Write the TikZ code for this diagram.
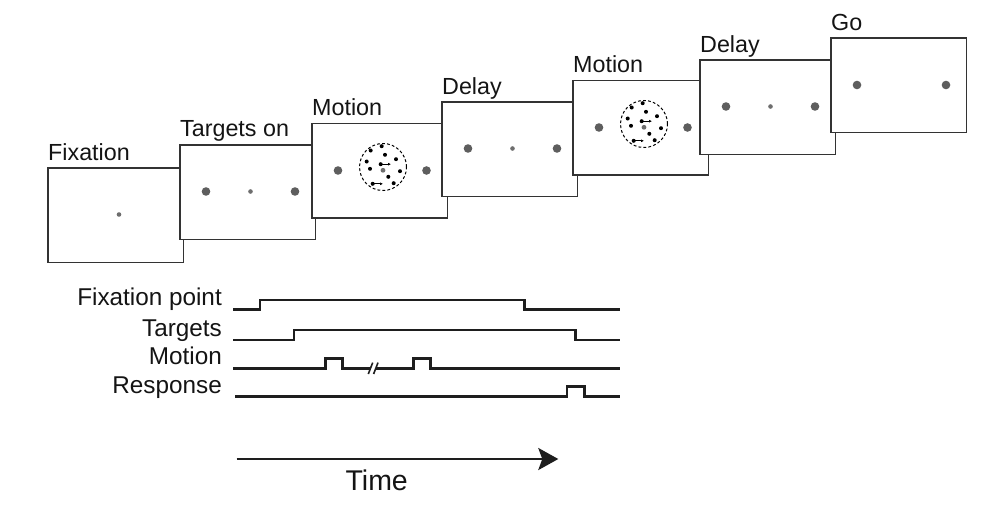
\documentclass[tikz,border=0pt]{standalone}
\usepackage{fontspec}
\setmainfont{Liberation Sans}
\usetikzlibrary{arrows.meta}
\definecolor{framecol}{HTML}{333333}
\definecolor{dotgray}{HTML}{5E5E5E}
\definecolor{fixgray}{HTML}{6E6E6E}
\definecolor{tracecol}{HTML}{1E1E1E}
\newcommand\panelfont{\fontsize{23.3}{28}\selectfont}
\newcommand\tracefont{\fontsize{24.3}{29}\selectfont}
\newcommand\timefont{\fontsize{28.5}{34}\selectfont}
\begin{document}
\begin{tikzpicture}[x=1pt,y=-1pt,
  panel/.style={draw=framecol, fill=white, line width=1.3pt, minimum width=135.5pt,
    minimum height=94.5pt, anchor=north west, inner sep=0pt, outer sep=0pt},
  lab/.style={font=\panelfont, inner sep=0pt, anchor=base west, text=black!92},
  tlab/.style={font=\tracefont, inner sep=0pt, anchor=base east, text=black!92},
  trace/.style={draw=tracecol, line width=2.5pt, line join=miter},
  tgt/.style={fill=dotgray},
  fix/.style={fill=fixgray},
  mdot/.style={fill=black},
  aperture/.style={draw=black, line width=1pt, dash pattern=on 2.8pt off 2.2pt},
  mvec/.style={draw=black, line width=1pt, -{Latex[length=3pt,width=3pt]}},
  timearrow/.style={draw=tracecol, line width=2.5pt, -{Stealth[length=20pt,width=22pt,inset=4pt]}}
]
\useasboundingbox (0,0) rectangle (982,514);

% ---- panels (later panels overlap earlier ones)
\foreach \i/\l/\t in {0/48/168, 1/180/145, 2/312/123.5, 3/442/102, 4/573/80.5, 5/700/60, 6/831/38}{
  \node[panel] (p\i) at (\l,\t) {};
}

% ---- panel labels
\node[lab] (l0) at (48,160) {Fixation};
\node[lab] (l1) at (180,136.5) {Targets on};
\node[lab] (l2) at (312,115.5) {Motion};
\node[lab] (l3) at (442,94) {Delay};
\node[lab] (l4) at (573,72.5) {Motion};
\node[lab] (l5) at (700,52) {Delay};
\node[lab] (l6) at (831,30.5) {Go};

% ---- panel contents
% fixation only
\begin{scope}[shift={(48,168)}]
  \fill[fix] (71,46.5) circle (2.3pt);
\end{scope}
% targets + fixation
\foreach \l/\t in {180/145, 442/102, 700/60}{
  \begin{scope}[shift={(\l,\t)}]
    \fill[tgt] (26,46.5) circle (4.3pt);
    \fill[tgt] (115,46.5) circle (4.3pt);
    \fill[fix] (70.5,46.5) circle (2.3pt);
  \end{scope}
}
% targets only
\begin{scope}[shift={(831,38)}]
  \fill[tgt] (26,47) circle (4.3pt);
  \fill[tgt] (115,47) circle (4.3pt);
\end{scope}
% motion panels
\foreach \l/\t in {312/123.5, 573/80.5}{
  \begin{scope}[shift={(\l,\t)}]
    \fill[tgt] (26,47) circle (4.3pt);
    \fill[tgt] (114.5,47) circle (4.3pt);
    \begin{scope}[shift={(71,43.5)}]
      \draw[aperture] (0,0) circle (23.5pt);
      \fill[fix] (0,3.3) circle (2.4pt);
      \foreach \dx/\dy in {-1.3/-20.8, -12.3/-16.5, 2/-12.2, 13/-7.8, -16.3/-5.5,
                           -13/1.8, 17/4.2, 5.3/9.8, 10.7/16.2}{
        \fill[mdot] (\dx,\dy) circle (2pt);
      }
      \fill[mdot] (-2.3,-2.8) circle (2pt);
      \draw[mvec] (-2.3,-2.8) -- (8,-2.8);
      \fill[mdot] (-10.3,16.8) circle (2pt);
      \draw[mvec] (-10.3,16.8) -- (0,16.8);
    \end{scope}
  \end{scope}
}

% ---- timing diagram
\node[tlab] (tf) at (222,305.8) {Fixation point};
\node[tlab] (tt) at (222,336.5) {Targets};
\node[tlab] (tm) at (222,364.8) {Motion};
\node[tlab] (tr) at (222,393.2) {Response};

\draw[trace] (233,309.5) -- (260,309.5) -- (260,300) -- (524.5,300) -- (524.5,309.5) -- (620,309.5);
\draw[trace] (233,340) -- (294,340) -- (294,330) -- (575.5,330) -- (575.5,340) -- (620,340);
\draw[trace] (233,368.3) -- (325.5,368.3) -- (325.5,358.3) -- (342.7,358.3) -- (342.7,368.3) -- (370.5,368.3);
\draw[trace] (375.8,368.3) -- (413.3,368.3) -- (413.3,358.3) -- (430.7,358.3) -- (430.7,368.3) -- (620,368.3);
\draw[draw=tracecol, line width=1.6pt] (368.3,374) -- (372.7,362.6);
\draw[draw=tracecol, line width=1.6pt] (373.6,374) -- (378,362.6);
\draw[trace] (235,396.7) -- (567,396.7) -- (567,386.7) -- (584.3,386.7) -- (584.3,396.7) -- (620,396.7);

% ---- time arrow
\coordinate (ts) at (236.7,459);
\coordinate (te) at (558.3,459);
\draw[timearrow] (ts) -- (te);
\node[font=\timefont, inner sep=0pt, anchor=base, text=black!92] (time) at (376.7,490.7) {Time};
\end{tikzpicture}
\end{document}
